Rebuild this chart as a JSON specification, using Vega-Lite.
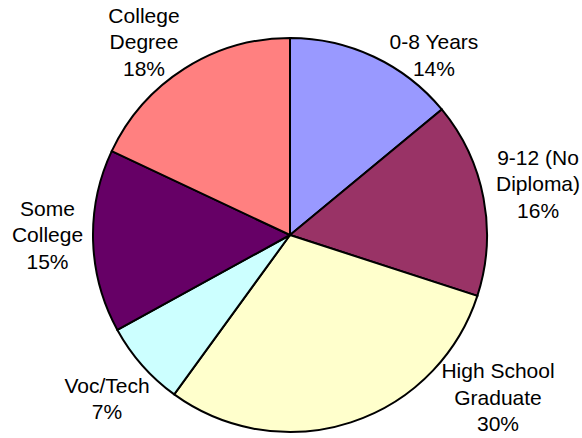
{
  "$schema": "https://vega.github.io/schema/vega-lite/v6.json",
  "width": 580,
  "height": 406,
  "autosize": {"type": "none"},
  "padding": {"left": 0, "top": 32, "right": 2, "bottom": 0},
  "background": "white",
  "config": {"view": {"stroke": null}},
  "data": {
    "values": [
      {"category": "0-8 Years", "value": 14, "label": "0-8 Years\n14%"},
      {"category": "9-12 (No Diploma)", "value": 16, "label": "9-12 (No\nDiploma)\n16%"},
      {"category": "High School Graduate", "value": 30, "label": "High School\nGraduate\n30%"},
      {"category": "Voc/Tech", "value": 7, "label": "Voc/Tech\n7%"},
      {"category": "Some College", "value": 15, "label": "Some\nCollege\n15%"},
      {"category": "College Degree", "value": 18, "label": "College\nDegree\n18%"}
    ]
  },
  "transform": [{"window": [{"op": "row_number", "as": "idx"}]}],
  "encoding": {
    "theta": {"field": "value", "type": "quantitative", "stack": true},
    "order": {"field": "idx", "type": "quantitative"}
  },
  "layer": [
    {
      "mark": {"type": "arc", "outerRadius": 197, "stroke": "black", "strokeWidth": 2},
      "encoding": {
        "color": {
          "field": "category",
          "type": "nominal",
          "scale": {
            "domain": ["0-8 Years", "9-12 (No Diploma)", "High School Graduate", "Voc/Tech", "Some College", "College Degree"],
            "range": ["#9999FF", "#993366", "#FFFFCC", "#CCFFFF", "#660066", "#FF8080"]
          },
          "legend": null
        }
      }
    },
    {
      "mark": {"type": "text", "radius": 235, "dx": 43.9, "dy": 21.0, "align": "center", "baseline": "middle", "font": "Liberation Sans", "fontSize": 21, "lineHeight": 26.5, "lineBreak": "\n", "fill": "black"},
      "encoding": {
        "detail": {"field": "category", "type": "nominal"},
        "text": {"condition": {"test": "datum.category === '0-8 Years'", "field": "label", "type": "nominal"}, "value": ""}
      }
    },
    {
      "mark": {"type": "text", "radius": 235, "dx": 17.2, "dy": -32.3, "align": "center", "baseline": "middle", "font": "Liberation Sans", "fontSize": 21, "lineHeight": 26.5, "lineBreak": "\n", "fill": "black"},
      "encoding": {
        "detail": {"field": "category", "type": "nominal"},
        "text": {"condition": {"test": "datum.category === '9-12 (No Diploma)'", "field": "label", "type": "nominal"}, "value": ""}
      }
    },
    {
      "mark": {"type": "text", "radius": 235, "dx": 135.4, "dy": -86.3, "align": "center", "baseline": "middle", "font": "Liberation Sans", "fontSize": 21, "lineHeight": 26.5, "lineBreak": "\n", "fill": "black"},
      "encoding": {
        "detail": {"field": "category", "type": "nominal"},
        "text": {"condition": {"test": "datum.category === 'High School Graduate'", "field": "label", "type": "nominal"}, "value": ""}
      }
    },
    {
      "mark": {"type": "text", "radius": 235, "dx": -6.7, "dy": -3.5, "align": "center", "baseline": "middle", "font": "Liberation Sans", "fontSize": 21, "lineHeight": 26.5, "lineBreak": "\n", "fill": "black"},
      "encoding": {
        "detail": {"field": "category", "type": "nominal"},
        "text": {"condition": {"test": "datum.category === 'Voc/Tech'", "field": "label", "type": "nominal"}, "value": ""}
      }
    },
    {
      "mark": {"type": "text", "radius": 235, "dx": -7.6, "dy": -32.7, "align": "center", "baseline": "middle", "font": "Liberation Sans", "fontSize": 21, "lineHeight": 26.5, "lineBreak": "\n", "fill": "black"},
      "encoding": {
        "detail": {"field": "category", "type": "nominal"},
        "text": {"condition": {"test": "datum.category === 'Some College'", "field": "label", "type": "nominal"}, "value": ""}
      }
    },
    {
      "mark": {"type": "text", "radius": 235, "dx": -20.1, "dy": -19.9, "align": "center", "baseline": "middle", "font": "Liberation Sans", "fontSize": 21, "lineHeight": 26.5, "lineBreak": "\n", "fill": "black"},
      "encoding": {
        "detail": {"field": "category", "type": "nominal"},
        "text": {"condition": {"test": "datum.category === 'College Degree'", "field": "label", "type": "nominal"}, "value": ""}
      }
    }
  ]
}
